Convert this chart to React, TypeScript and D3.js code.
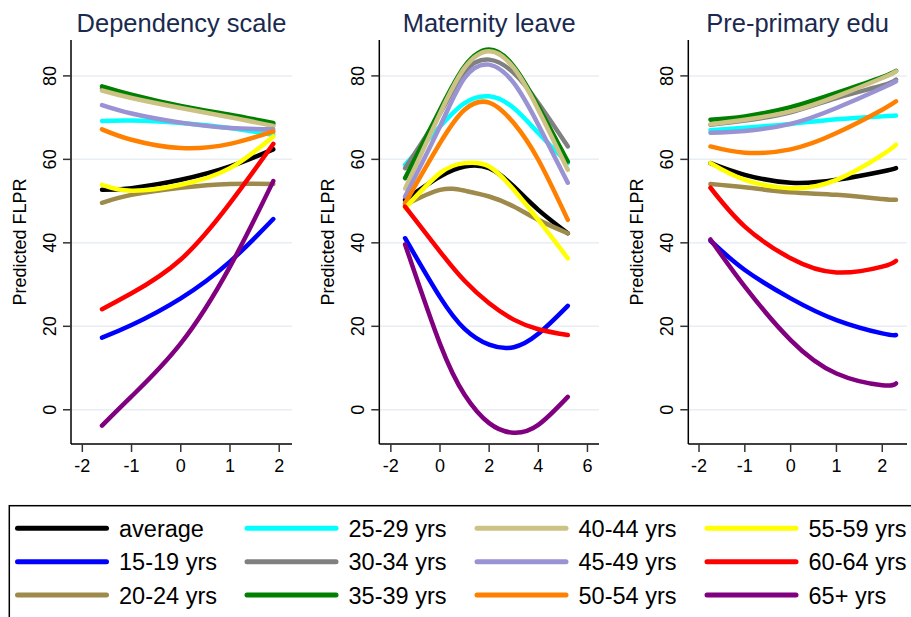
import React from 'react';
import * as d3 from 'd3';

// age groups, in legend order (later ones drawn on top)
const groups = [
  'average', '15-19 yrs', '20-24 yrs', '25-29 yrs', '30-34 yrs', '35-39 yrs',
  '40-44 yrs', '45-49 yrs', '50-54 yrs', '55-59 yrs', '60-64 yrs', '65+ yrs',
];
const groupColors = [
  '#000000', '#0000ff', '#9e8a4a', '#00ffff', '#808080', '#008000',
  '#cbc283', '#9a93d3', '#ff8000', '#ffff00', '#ff0000', '#800080',
];

const panelTitles = ['Dependency scale', 'Maternity leave', 'Pre-primary edu'];
const panelXTicks = [[-2, -1, 0, 1, 2], [-2, 0, 2, 4, 6], [-2, -1, 0, 1, 2]];
const panelXDomains = [[-2.23, 2.26], [-2.47, 6.47], [-2.234, 2.54]];
const yTicks = [0, 20, 40, 60, 80];
const yDomain = [-8.2, 88.6];

// Dependency scale
const depX = [-1.6, -1, 0, 1, 1.88];
const depY = [
  [52.7, 53.1, 55.1, 58.3, 62.4],
  [17.3, 20.3, 26.7, 35.5, 45.7],
  [49.6, 51.5, 53.2, 54.1, 54.1],
  [69.2, 69.3, 68.7, 67.5, 65.9],
  [77.0, 75.0, 72.5, 70.3, 68.4],
  [77.5, 75.5, 72.8, 70.7, 68.7],
  [76.5, 74.7, 72.3, 70.1, 68.0],
  [73.0, 71.0, 68.8, 67.5, 67.2],
  [67.2, 64.7, 62.7, 63.7, 66.7],
  [53.9, 52.5, 53.9, 57.9, 65.5],
  [24.1, 27.9, 36.0, 49.5, 63.7],
  [-3.8, 3.2, 15.9, 34.3, 54.8],
];

// Maternity leave
const matX = [-1.42, 0, 1, 2, 3, 4, 5.2];
const matY = [
  [50.3, 55.9, 58.3, 57.9, 53.5, 47.9, 42.3],
  [41.1, 27.0, 19.4, 15.6, 15.0, 18.2, 24.9],
  [49.1, 52.7, 52.5, 51.1, 48.7, 45.5, 42.3],
  [58.7, 67.9, 73.5, 75.1, 72.3, 66.3, 59.1],
  [57.9, 71.0, 81.0, 83.9, 80.7, 73.5, 63.1],
  [55.5, 71.9, 82.3, 86.3, 82.3, 72.7, 59.5],
  [53.0, 71.0, 81.9, 85.9, 81.9, 71.9, 57.5],
  [51.1, 67.9, 79.5, 82.7, 78.3, 68.3, 54.4],
  [49.5, 63.9, 71.9, 73.6, 68.7, 59.9, 45.5],
  [48.3, 56.7, 59.1, 58.3, 52.7, 45.5, 36.3],
  [48.7, 37.9, 30.9, 25.5, 21.6, 19.3, 17.9],
  [39.6, 15.8, 3.6, -3.2, -5.5, -3.6, 3.1],
];

// Pre-primary edu
const preX = [-1.75, -1, 0, 1, 2, 2.3];
const preY = [
  [59.1, 56.3, 54.4, 55.1, 57.1, 57.9],
  [40.5, 33.5, 26.7, 21.5, 18.3, 17.9],
  [54.1, 53.3, 52.1, 51.5, 50.5, 50.3],
  [67.0, 67.6, 68.5, 69.6, 70.3, 70.5],
  [68.3, 69.3, 71.3, 74.7, 77.7, 79.1],
  [69.5, 70.3, 72.5, 75.9, 79.7, 81.2],
  [68.4, 69.5, 71.5, 75.1, 79.5, 81.1],
  [66.4, 66.8, 68.5, 72.3, 77.1, 78.7],
  [63.1, 61.6, 62.4, 66.3, 71.9, 73.9],
  [59.1, 55.1, 53.1, 55.1, 61.1, 63.5],
  [53.2, 43.9, 36.3, 32.9, 34.3, 35.7],
  [40.8, 29.5, 16.7, 8.7, 5.9, 6.3],
];

const panelXs = [depX, matX, preX];
const panelYs = [depY, matY, preY];

const FONT = 'Liberation Sans, Arial, Helvetica, sans-serif';
const W = 911;
const H = 617;
const plotTop = 40;
const plotBottom = 444;
const panelLeft = [71, 379.3, 688.3];
const panelRight = [292, 599, 907];

function Panel({ idx }: { idx: number }) {
  const x = d3.scaleLinear().domain(panelXDomains[idx]).range([panelLeft[idx], panelRight[idx]]);
  const y = d3.scaleLinear().domain(yDomain).range([plotBottom, plotTop]);
  const xs = panelXs[idx];
  const line = d3.line<number>()
    .x((_, i) => x(xs[i]))
    .y(d => y(d))
    .curve(d3.curveNatural);
  const left = panelLeft[idx];
  const right = panelRight[idx];
  return (
    <g>
      <text x={(left + right) / 2} y={32} textAnchor="middle" fontSize={25.5} fill="#1a2a4f">
        {panelTitles[idx]}
      </text>
      {/* grid */}
      {yTicks.map(t => (
        <line key={'g' + t} x1={left} x2={right} y1={y(t)} y2={y(t)} stroke="#e8eef3" strokeWidth={1.5} />
      ))}
      {/* series */}
      {panelYs[idx].map((vals, i) => (
        <path key={groups[i]} d={line(vals) || ''} fill="none" stroke={groupColors[i]}
          strokeWidth={4.5} strokeLinecap="round" strokeLinejoin="round" />
      ))}
      {/* y axis */}
      <line x1={left} x2={left} y1={plotTop} y2={plotBottom} stroke="#000" strokeWidth={1.5} />
      {yTicks.map(t => (
        <g key={'y' + t}>
          <line x1={left - 8} x2={left} y1={y(t)} y2={y(t)} stroke="#333" strokeWidth={1.5} />
          <text transform={`translate(${left - 15},${y(t)}) rotate(-90)`} textAnchor="middle"
            fontSize={18} fill="#000">{t}</text>
        </g>
      ))}
      <text transform={`translate(${left - 45},${(plotTop + plotBottom) / 2}) rotate(-90)`}
        textAnchor="middle" fontSize={18} fill="#000">Predicted FLPR</text>
      {/* x axis */}
      <line x1={left} x2={right} y1={plotBottom} y2={plotBottom} stroke="#000" strokeWidth={1.5} />
      {panelXTicks[idx].map(t => (
        <g key={'x' + t}>
          <line x1={x(t)} x2={x(t)} y1={plotBottom} y2={plotBottom + 8} stroke="#333" strokeWidth={1.5} />
          <text x={x(t)} y={471.5} textAnchor="middle" fontSize={18} fill="#000">{t}</text>
        </g>
      ))}
    </g>
  );
}

function Legend() {
  const rowY = [528.3, 561.7, 595];
  const colX = [17.5, 247, 477, 707];
  return (
    <g>
      <rect x={9.3} y={505.7} width={W + 10} height={140} fill="none" stroke="#000" strokeWidth={1.5} />
      {groups.map((g, i) => {
        const col = Math.floor(i / 3);
        const row = i % 3;
        const cy = rowY[row];
        const cx = colX[col];
        return (
          <g key={g}>
            <line x1={cx} x2={cx + 89} y1={cy} y2={cy} stroke={groupColors[i]} strokeWidth={5} strokeLinecap="round" />
            <text x={cx + 101.5} y={cy + 8.5} fontSize={23.5} fill="#000">{g}</text>
          </g>
        );
      })}
    </g>
  );
}

export default function App() {
  return (
    <svg width={W} height={H} style={{ position: 'absolute', left: 0, top: 0, background: '#fff' }}
      fontFamily={FONT}>
      <rect x={0} y={0} width={W} height={H} fill="#fff" />
      {[0, 1, 2].map(i => <Panel key={i} idx={i} />)}
      <Legend />
    </svg>
  );
}
